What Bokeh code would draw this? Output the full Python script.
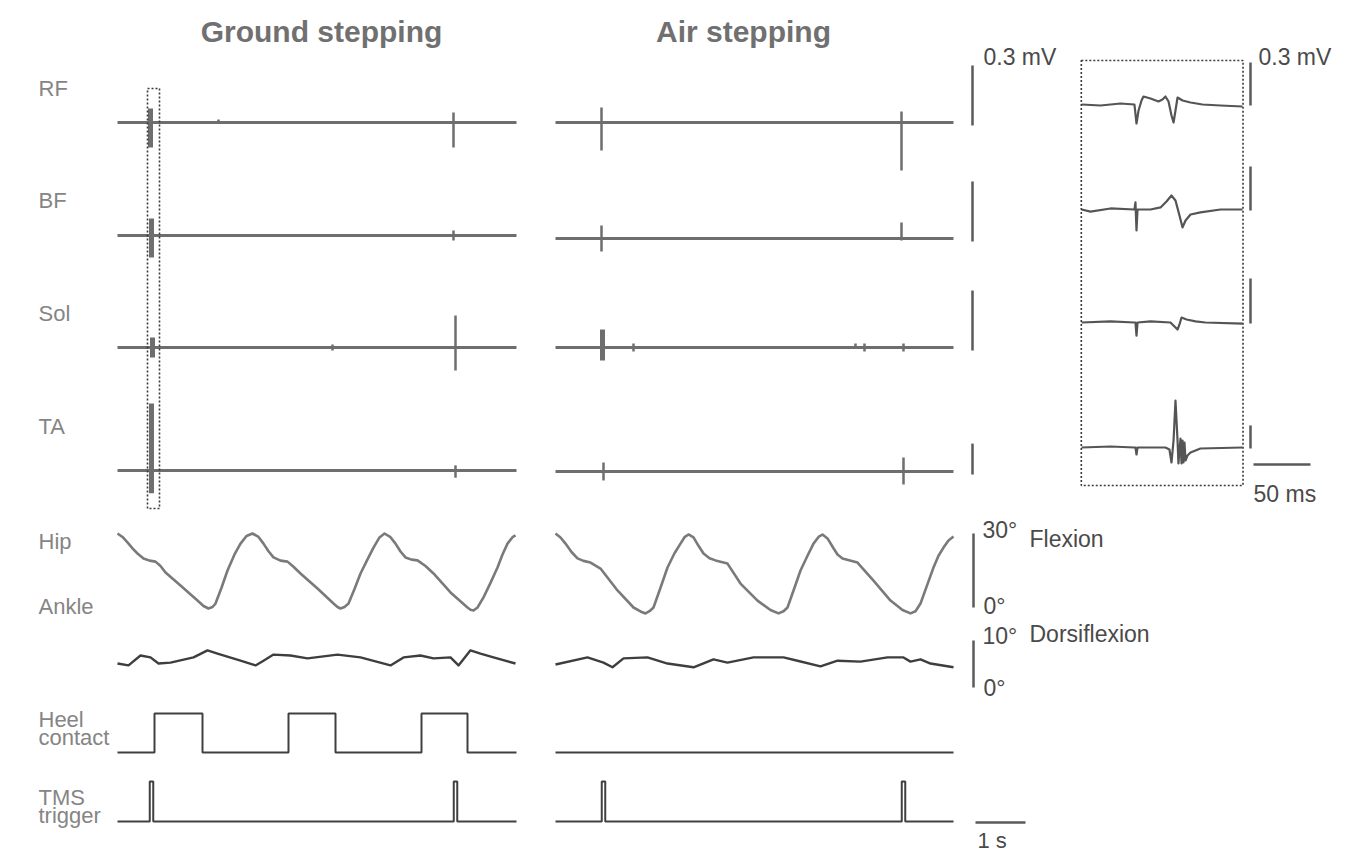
import numpy as np
from bokeh.plotting import figure
from bokeh.models import Range1d
from bokeh.embed import file_html
from bokeh.resources import INLINE
from bokeh.core.properties import value

# ======================= DATA =======================
conditions = ["Ground stepping", "Air stepping"]
muscles = ["RF", "BF", "Sol", "TA"]
record_len_s = [7.98, 7.96]

# EMG events on the long traces: time (s), positive peak (mV), negative peak (mV), burst?
ground_emg_t = [[0.66, 2.02, 6.72], [0.68, 6.72], [0.70, 4.30, 6.76], [0.68, 6.76]]
ground_emg_pos = [[0.07, 0.015, 0.05], [0.085, 0.025], [0.05, 0.015, 0.16], [0.65, 0.05]]
ground_emg_neg = [[0.125, 0.0, 0.125], [0.11, 0.025], [0.05, 0.015, 0.115], [0.22, 0.07]]
ground_emg_burst = [[1, 0, 0], [1, 0], [1, 0, 0], [1, 0]]

air_emg_t = [[0.92, 6.92], [0.92, 6.92], [0.94, 1.56, 6.00, 6.18, 6.96], [0.96, 6.96]]
air_emg_pos = [[0.075, 0.055], [0.065, 0.08], [0.09, 0.02, 0.02, 0.02, 0.02], [0.087, 0.136]]
air_emg_neg = [[0.14, 0.24], [0.065, 0.01], [0.065, 0.02, 0.0, 0.02, 0.02], [0.087, 0.126]]
air_emg_burst = [[0, 0], [0, 0], [1, 0, 0, 0, 0], [0, 0]]

# Hip angle (deg, flexion +)
hip_t_ground = [0.00, 0.10, 0.20, 0.30, 0.40, 0.52, 0.64, 0.76, 0.86, 0.96, 1.26, 1.60, 1.72, 1.82,
                1.90, 1.96, 2.08, 2.20, 2.34, 2.46, 2.58, 2.70, 2.82, 2.92, 3.02, 3.12, 3.26, 3.40,
                3.52, 3.66, 4.00, 4.32, 4.40, 4.46, 4.54, 4.62, 4.74, 4.86, 5.00, 5.12, 5.24, 5.34,
                5.46, 5.56, 5.66, 5.76, 5.88, 6.00, 6.16, 6.32, 6.66, 7.00, 7.06, 7.12, 7.20, 7.32,
                7.46, 7.60, 7.70, 7.80, 7.90, 7.96]
hip_deg_ground = [30.0, 28.6, 26.4, 24.0, 21.9, 19.9, 19.0, 18.6, 16.8, 14.2, 8.9, 2.8, 0.6, -0.4,
                  0.2, 1.6, 8.0, 15.0, 21.5, 25.9, 29.0, 30.0, 28.6, 25.9, 22.8, 20.3, 19.0, 18.6,
                  16.5, 13.8, 7.7, 1.6, 0.2, -0.4, 0.2, 1.6, 7.5, 13.8, 19.5, 24.3, 28.4, 30.0,
                  28.5, 25.9, 22.7, 20.3, 19.4, 19.1, 16.8, 13.8, 6.1, 0.0, -0.9, -1.2, 0.0, 4.1,
                  10.0, 16.2, 21.5, 25.9, 28.5, 29.2]
hip_t_air = [0.00, 0.10, 0.20, 0.32, 0.44, 0.56, 0.70, 0.90, 1.24, 1.56, 1.70, 1.80, 1.88, 1.96,
             2.10, 2.24, 2.38, 2.50, 2.58, 2.66, 2.76, 2.86, 2.96, 3.08, 3.20, 3.44, 3.70, 4.04,
             4.30, 4.46, 4.56, 4.64, 4.78, 4.90, 5.04, 5.16, 5.26, 5.34, 5.44, 5.56, 5.64, 5.74,
             6.04, 6.36, 6.70, 6.94, 7.10, 7.20, 7.30, 7.44, 7.56, 7.66, 7.76, 7.86, 7.96]
hip_deg_air = [30.0, 28.4, 25.9, 22.5, 19.9, 18.9, 18.2, 15.8, 6.9, 0.0, -1.6, -2.4, -1.5, 0.0,
               8.0, 16.2, 22.0, 25.9, 28.5, 29.6, 28.4, 25.0, 21.9, 20.0, 19.1, 17.8, 9.7, 2.8,
               -1.0, -2.4, -1.5, 0.0, 8.0, 15.0, 21.0, 25.9, 28.6, 29.6, 28.0, 24.0, 21.5, 19.9,
               18.2, 10.9, 2.8, -1.0, -2.4, -1.5, 1.6, 9.5, 16.2, 21.0, 24.3, 27.2, 28.8]

# Ankle angle (deg, dorsiflexion +)
ankle_t_ground = [0.00, 0.22, 0.46, 0.66, 0.82, 1.06, 1.52, 1.80, 2.00, 2.46, 2.76, 2.92, 3.12,
                  3.46, 3.80, 4.40, 4.86, 5.46, 5.72, 6.06, 6.32, 6.66, 6.82, 7.06, 7.26, 7.52, 7.96]
ankle_deg_ground = [5.1, 4.7, 6.8, 6.4, 5.1, 5.3, 6.4, 7.9, 7.2, 5.7, 4.7, 5.7, 7.0,
                    6.8, 6.2, 7.0, 6.4, 4.7, 6.4, 6.8, 6.2, 6.4, 4.7, 7.9, 7.2, 6.4, 5.1]
ankle_t_air = [0.00, 0.64, 0.96, 1.14, 1.36, 1.84, 2.24, 2.76, 3.16, 3.44, 3.96, 4.56, 4.84,
               5.30, 5.64, 6.10, 6.64, 6.96, 7.10, 7.30, 7.50, 7.96]
ankle_deg_air = [4.9, 6.4, 5.3, 4.3, 6.2, 6.4, 5.1, 4.3, 6.0, 5.3, 6.4, 6.4, 5.7,
                 4.5, 5.7, 5.5, 6.4, 6.4, 5.5, 6.0, 5.1, 4.3]

# Heel contact (s) and TMS triggers (s)
heel_on_ground = [0.74, 3.42, 6.08]
heel_off_ground = [1.70, 4.36, 7.00]
heel_on_air = []
heel_off_air = []
tms_ground = [0.68, 6.76]
tms_air = [0.96, 6.96]

# MEPs (inset), time from TMS (ms) and amplitude (mV)
mep_t_ms = [
    [-48.2, -31.6, -14.0, -1.8, 0.0, 1.8, 4.4, 6.1, 12.3, 19.3, 22.8, 25.4, 28.1, 30.7, 32.5,
     34.2, 36.0, 40.4, 47.4, 57.9, 73.7, 93.0],
    [-48.2, -40.4, -22.8, -1.8, -0.9, 0.0, 0.9, 12.3, 21.1, 26.3, 30.7, 34.2, 37.7, 40.4, 43.0,
     47.4, 56.1, 73.7, 93.0],
    [-48.2, -22.8, -1.8, -0.9, 0.0, 0.9, 12.3, 29.8, 34.2, 36.0, 37.7, 39.5, 43.9, 51.8, 60.5, 93.0],
    [-48.2, -22.8, -1.8, -0.9, 0.0, 0.9, 25.4, 28.9, 30.7, 32.5, 34.2, 36.0, 36.8, 37.7, 38.6,
     39.5, 40.4, 41.2, 42.1, 43.0, 44.7, 47.4, 56.1, 93.0],
]
mep_mv = [
    [0.0, -0.007, 0.007, 0.0, -0.133, -0.042, 0.028, 0.056, 0.042, 0.021, 0.035, 0.056, 0.021,
     -0.077, -0.126, -0.042, 0.049, 0.028, 0.014, 0.0, -0.007, -0.014],
    [0.0, -0.014, 0.007, 0.0, 0.048, -0.143, 0.0, 0.0, 0.014, 0.054, 0.095, 0.061, -0.041,
     -0.122, -0.075, -0.034, -0.020, 0.0, 0.0],
    [0.0, 0.007, 0.0, 0.0, -0.087, 0.0, 0.007, 0.0, -0.033, -0.047, -0.013, 0.033, 0.020,
     0.007, 0.0, -0.007],
    [0.0, 0.013, 0.0, 0.0, -0.091, 0.0, 0.0, -0.026, -0.195, 0.091, 0.61, 0.091, -0.208,
     -0.039, 0.117, -0.208, 0.091, -0.195, 0.065, -0.169, -0.104, -0.065, -0.013, 0.0],
]

emg_scale_mv = 0.3
hip_scale_deg = 30
ankle_scale_deg = 10
time_scale_s = 1
mep_time_scale_ms = 50

# ======================= LAYOUT =======================
W, H = 1348, 856
PX_PER_S = 50.0
REF_X = 117.0                     # screen x of t = 0 in the ground panel


def X(px):
    """screen x (px) -> data x (s)"""
    return (px - REF_X) / PX_PER_S


cond_x0 = [X(117), X(555)]
emg_base_y = [[122, 235, 347, 470], [122, 238, 347, 471]]
emg_gain = [200, 200, 200, 103]          # px per mV
hip_zero_y, hip_gain = 607, 74.0 / 30.0
ankle_zero_y, ankle_gain = 687, 4.7
heel_base_y, heel_h = 752, 39
tms_base_y, tms_h = 821, 40
tms_half_w = 0.035

inset_stim_x, inset_px_ms = 1136, 1.14
inset_base_y = [104, 209, 322, 447]
inset_gain = [143, 147, 150, 77]

EMG_C = "#6e6e6e"
HIP_C = "#7a7a7a"
ANK_C = "#3e3e3e"
DIG_C = "#404040"
BAR_C = "#5a5a5a"
LAB_C = "#858585"
TXT_C = "#4a4a4a"
FONT = value("Liberation Sans")

p = figure(width=W, height=H, x_range=Range1d(X(0), X(W)), y_range=Range1d(H, 0),
           output_backend="svg", toolbar_location=None, min_border=0,
           x_axis_type=None, y_axis_type=None)
p.grid.visible = False
p.outline_line_color = None
p.background_fill_color = "white"

emg_t = [ground_emg_t, air_emg_t]
emg_pos = [ground_emg_pos, air_emg_pos]
emg_neg = [ground_emg_neg, air_emg_neg]
emg_burst = [ground_emg_burst, air_emg_burst]
hip_t = [hip_t_ground, hip_t_air]
hip_deg = [hip_deg_ground, hip_deg_air]
ank_t = [ankle_t_ground, ankle_t_air]
ank_deg = [ankle_deg_ground, ankle_deg_air]
heel_on = [heel_on_ground, heel_on_air]
heel_off = [heel_off_ground, heel_off_air]
tms = [tms_ground, tms_air]

for c in range(2):
    x0 = cond_x0[c]
    L = record_len_s[c]
    # EMG
    for m in range(4):
        by = emg_base_y[c][m]
        g = emg_gain[m]
        p.line([x0, x0 + L], [by, by], line_color=EMG_C, line_width=3)
        for t, up, dn, b in zip(emg_t[c][m], emg_pos[c][m], emg_neg[c][m], emg_burst[c][m]):
            p.segment(x0=[x0 + t], y0=[by - up * g], x1=[x0 + t], y1=[by + dn * g],
                      line_color=EMG_C, line_width=5 if b else 2.5)
    # Hip
    p.line([x0 + t for t in hip_t[c]], [hip_zero_y - d * hip_gain for d in hip_deg[c]],
           line_color=HIP_C, line_width=2.6, line_join="round")
    # Ankle
    p.line([x0 + t for t in ank_t[c]], [ankle_zero_y - d * ankle_gain for d in ank_deg[c]],
           line_color=ANK_C, line_width=2.4, line_join="round")
    # Heel contact step signal
    xs, ys = [x0], [heel_base_y]
    for on, off in zip(heel_on[c], heel_off[c]):
        xs += [x0 + on, x0 + on, x0 + off, x0 + off]
        ys += [heel_base_y, heel_base_y - heel_h, heel_base_y - heel_h, heel_base_y]
    xs.append(x0 + L)
    ys.append(heel_base_y)
    p.line(xs, ys, line_color=DIG_C, line_width=2)
    # TMS trigger
    xs, ys = [x0], [tms_base_y]
    for t in tms[c]:
        xs += [x0 + t - tms_half_w, x0 + t - tms_half_w, x0 + t + tms_half_w, x0 + t + tms_half_w]
        ys += [tms_base_y, tms_base_y - tms_h, tms_base_y - tms_h, tms_base_y]
    xs.append(x0 + L)
    ys.append(tms_base_y)
    p.line(xs, ys, line_color=DIG_C, line_width=2)

# dotted box around the first ground stimulus
t_box = tms_ground[0]
p.quad(left=[cond_x0[0] + t_box - 0.08], right=[cond_x0[0] + t_box + 0.16], top=[88], bottom=[508],
       fill_color=None, line_color="#3a3a3a", line_width=1.6, line_dash="2 2")

# EMG scale bars (main)
bar_x = X(972)
for m in range(4):
    bot = emg_base_y[1][m] + 3
    p.segment(x0=[bar_x], y0=[bot], x1=[bar_x], y1=[bot - emg_scale_mv * emg_gain[m]],
              line_color=BAR_C, line_width=2.5)


# Inset MEPs
def IX(ms):
    return X(inset_stim_x + ms * inset_px_ms)


for m in range(4):
    p.line([IX(t) for t in mep_t_ms[m]], [inset_base_y[m] - v * inset_gain[m] for v in mep_mv[m]],
           line_color="#555555", line_width=2.2, line_join="round")
    bot = inset_base_y[m] + 1
    p.segment(x0=[X(1250)], y0=[bot], x1=[X(1250)], y1=[bot - emg_scale_mv * inset_gain[m]],
              line_color=BAR_C, line_width=2.5)

p.quad(left=[IX(mep_t_ms[0][0]) - 0.005], right=[IX(mep_t_ms[0][-1]) + 0.01], top=[60], bottom=[485],
       fill_color=None, line_color="#3a3a3a", line_width=1.6, line_dash="2 2")

# 50 ms bar
ms_bar_x0 = X(1253)
p.segment(x0=[ms_bar_x0], y0=[464], x1=[ms_bar_x0 + mep_time_scale_ms * inset_px_ms / PX_PER_S],
          y1=[464], line_color=BAR_C, line_width=2.5)

# Hip / ankle scale bars
p.segment(x0=[X(973)], y0=[hip_zero_y], x1=[X(973)], y1=[hip_zero_y - hip_scale_deg * hip_gain],
          line_color=BAR_C, line_width=2.5)
p.segment(x0=[X(973)], y0=[ankle_zero_y], x1=[X(973)], y1=[ankle_zero_y - ankle_scale_deg * ankle_gain],
          line_color=BAR_C, line_width=2.5)
# 1 s bar
p.segment(x0=[X(975)], y0=[822], x1=[X(975) + time_scale_s], y1=[822], line_color=BAR_C, line_width=2.5)

# ---------------- texts ----------------
p.text(x=[X(321), X(743)], y=[31, 31], text=conditions, text_font=FONT, text_font_size=value("30px"),
       text_font_style="bold", text_color="#707070", text_align="center", text_baseline="middle")

left_labels = muscles + ["Hip", "Ankle", "Heel", "contact", "TMS", "trigger"]
left_y = [88, 200, 313, 426, 541, 606, 719, 737, 797, 815]
p.text(x=[X(38)] * len(left_labels), y=left_y, text=left_labels, text_font=FONT,
       text_font_size=value("22px"), text_color=LAB_C, text_align="left", text_baseline="middle",
       text_line_height=1.0)

right_txt = ["%.1f mV" % emg_scale_mv, "%.1f mV" % emg_scale_mv, "%d°" % hip_scale_deg, "Flexion", "0°",
             "%d°" % ankle_scale_deg, "Dorsiflexion", "0°", "%d ms" % mep_time_scale_ms]
right_x = [983, 1258, 982, 1029, 983, 982, 1029, 983, 1253]
right_y = [56, 56, 529, 538, 605, 635, 633, 687, 493]
p.text(x=[X(v) for v in right_x], y=right_y, text=right_txt, text_font=FONT,
       text_font_size=value("23px"), text_color=TXT_C, text_align="left", text_baseline="middle")
# time scale label (kept inside the canvas)
p.text(x=[X(977)], y=[840], text=["%d s" % time_scale_s], text_font=FONT,
       text_font_size=value("22px"), text_color=TXT_C, text_align="left", text_baseline="middle")

open("out.html", "w").write(file_html(p, INLINE))
